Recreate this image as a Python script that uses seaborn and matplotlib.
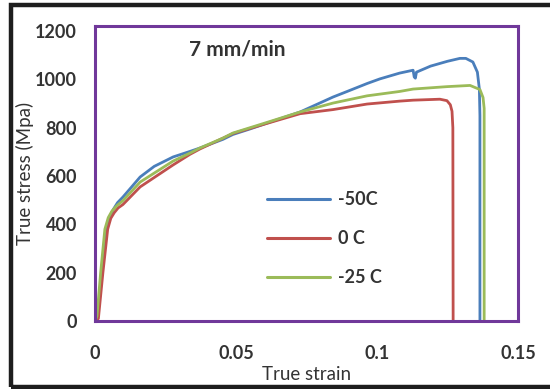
import numpy as np
import pandas as pd
import matplotlib
matplotlib.use("Agg")
import matplotlib.pyplot as plt
import seaborn as sns
from matplotlib.patches import Rectangle

# ---------------- data ----------------
series_names = ["-50C", "0 C", "-25 C"]

strain_m50 = [0, 0.001, 0.0025, 0.004, 0.0052, 0.0065, 0.008, 0.0099, 0.013, 0.016, 0.021,
              0.0277, 0.0337, 0.0372, 0.0454, 0.0489, 0.055, 0.061, 0.0727, 0.0844,
              0.0894, 0.0965, 0.101, 0.108, 0.1128, 0.1132, 0.1136, 0.1140, 0.119,
              0.125, 0.1294, 0.1315, 0.134, 0.1356, 0.1363, 0.1365, 0.1365]
stress_m50 = [0, 20, 200, 380, 430, 462, 490, 513, 555, 596, 640,
              679, 702, 716, 752, 772, 795, 819, 865, 927,
              950, 983, 1002, 1026, 1038, 1010, 1005, 1030, 1055,
              1075, 1087, 1087, 1072, 1030, 960, 850, 0]

strain_0 = [0, 0.0012, 0.0028, 0.0045, 0.0056, 0.0068, 0.0082, 0.0099, 0.016, 0.0277, 0.0337,
            0.0372, 0.0454, 0.0489, 0.061, 0.0727, 0.0844, 0.0965, 0.108, 0.1128,
            0.1223, 0.1248, 0.126, 0.1266, 0.1269, 0.127]
stress_0 = [0, 10, 200, 380, 425, 448, 468, 482, 555, 646, 690,
            712, 757, 776, 818, 858, 875, 898, 910, 914,
            918, 912, 895, 868, 800, 0]

strain_m25 = [0, 0.0007, 0.002, 0.0035, 0.0047, 0.006, 0.0078, 0.0099, 0.016, 0.0277, 0.0337,
              0.0372, 0.0454, 0.0489, 0.061, 0.0727, 0.0844, 0.0965, 0.108, 0.1128,
              0.1248, 0.133, 0.1365, 0.1376, 0.138, 0.138]
stress_m25 = [0, 20, 200, 380, 428, 455, 478, 498, 575, 662, 695,
              716, 757, 778, 822, 865, 902, 932, 950, 960,
              970, 975, 958, 925, 880, 0]

x_ticks = [0, 0.05, 0.1, 0.15]
x_tick_labels = ["0", "0.05", "0.1", "0.15"]
y_ticks = [0, 200, 400, 600, 800, 1000, 1200]

colors = {"-50C": "#4a7ebb", "0 C": "#c0504d", "-25 C": "#9bbb59"}

frames = []
for name, sx, sy in [("-50C", strain_m50, stress_m50),
                     ("0 C", strain_0, stress_0),
                     ("-25 C", strain_m25, stress_m25)]:
    frames.append(pd.DataFrame({"strain": sx, "stress": sy, "series": name,
                                "order": np.arange(len(sx))}))
df = pd.concat(frames, ignore_index=True)

# ---------------- figure ----------------
sns.set_style("white")
plt.rcParams["font.family"] = ["Lato", "DejaVu Sans"]

W, H = 550, 389
fig = plt.figure(figsize=(5.5, 3.89), dpi=100)
ax = fig.add_axes([95 / W, 1 - 321 / H, (518 - 95) / W, (321 - 26) / H])

sns.lineplot(data=df, x="strain", y="stress", hue="series", palette=colors,
             hue_order=series_names, sort=False, estimator=None, units="series",
             linewidth=2.0, ax=ax, legend=False)

ax.set_xlim(0, 0.15)
ax.set_ylim(0, 1221)
ax.set_xticks(x_ticks)
ax.set_xticklabels(x_tick_labels)
ax.set_yticks(y_ticks)
ax.tick_params(axis="both", length=0, labelsize=13, labelcolor="#333333")
ax.tick_params(axis="y", pad=13)
ax.tick_params(axis="x", pad=17)
for lab in ax.get_xticklabels() + ax.get_yticklabels():
    lab.set_fontweight("bold")

for s in ax.spines.values():
    s.set_visible(True)
    s.set_color("#70389a")
    s.set_linewidth(2.2)

ax.set_xlabel("True strain", fontsize=13.5, color="#333333")
ax.set_ylabel("True stress (Mpa)", fontsize=13.5, color="#333333")
ax.xaxis.label.set_verticalalignment("center")
ax.yaxis.label.set_verticalalignment("center")
ax.xaxis.set_label_coords((307 - 95) / 423, (321 - 375) / 295)
ax.yaxis.set_label_coords((25 - 95) / 423, (321 - 173) / 295)

ax.text((237 - 95) / 423, (321 - 50) / 295, "7 mm/min", transform=ax.transAxes,
        ha="center", va="center", fontsize=15, fontweight="bold", color="#333333")

handles = [plt.Line2D([], [], color=colors[n], linewidth=2.2) for n in series_names]
leg = ax.legend(handles, series_names, loc="upper left",
                bbox_to_anchor=(267 / W, 1 - 191 / H), bbox_transform=fig.transFigure,
                frameon=False, fontsize=13, handlelength=3.5, handletextpad=0.45,
                labelspacing=1.22, borderpad=0, borderaxespad=0)
for t in leg.get_texts():
    t.set_fontweight("bold")
    t.set_color("#333333")

# outer black frame
fig.add_artist(Rectangle((11 / W, 1 - 387 / H), 600 / W, (387 - 4.5) / H,
                         transform=fig.transFigure, fill=False,
                         edgecolor="#1e1e1e", linewidth=3.2, clip_on=False))

fig.savefig("out.png", dpi=100)
